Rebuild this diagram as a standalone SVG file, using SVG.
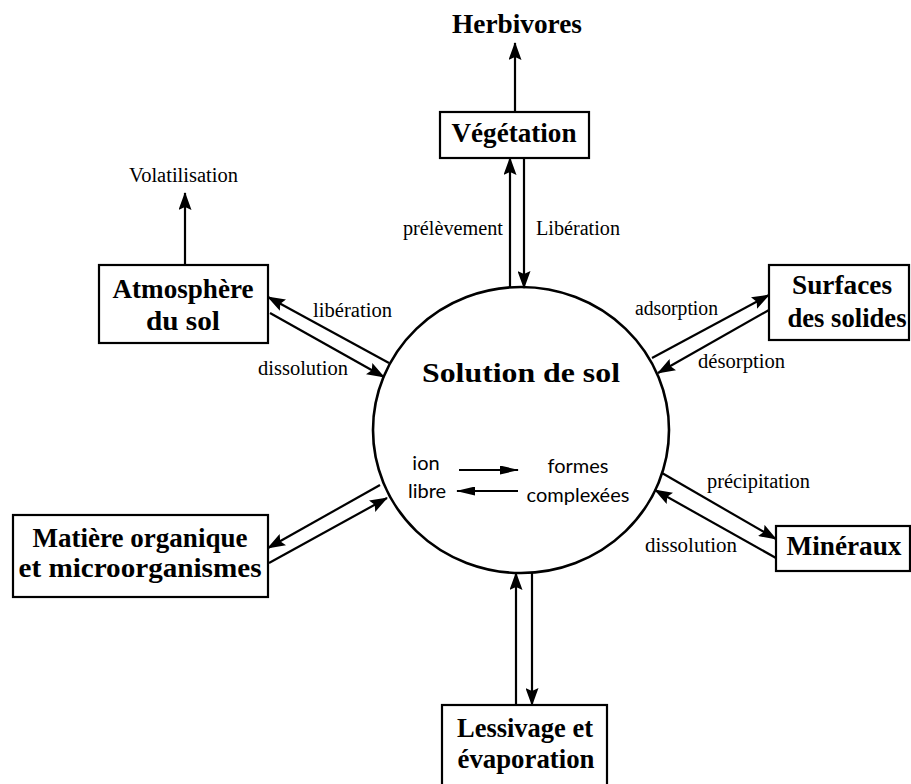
<svg xmlns="http://www.w3.org/2000/svg" width="911" height="784" viewBox="0 0 911 784">
  <style>
    .box { fill: #fff; stroke: #000; stroke-width: 2.2; }
    .node { font-family: "Liberation Serif", "Times New Roman", serif; font-weight: bold; font-size: 28px; fill: #000; text-anchor: middle; }
    .lbl { font-family: "Liberation Serif", "Times New Roman", serif; font-size: 20px; fill: #000; }
    .inner { font-family: Lato, "Open Sans", sans-serif; font-size: 20px; fill: #000; }
    .arr { stroke: #000; stroke-width: 2.2; fill: none; marker-end: url(#head); }
    .arr-s { stroke: #000; stroke-width: 2.2; fill: none; marker-end: url(#head-s); }
  </style>
  <defs>
    <marker id="head" viewBox="0 0 18 13" refX="17" refY="6.5" markerWidth="18" markerHeight="13" markerUnits="userSpaceOnUse" orient="auto">
      <path d="M0,0 L18,6.5 L0,13 L3,6.5 z" fill="#000"/>
    </marker>
    <marker id="head-s" viewBox="0 0 19 9" refX="18" refY="4.5" markerWidth="19" markerHeight="9" markerUnits="userSpaceOnUse" orient="auto">
      <path d="M0,0 L19,4.5 L0,9 z" fill="#000"/>
    </marker>
  </defs>

  <rect width="911" height="784" fill="#fff"/>

  <!-- connectors -->
  <g id="connectors">
    <!-- Végétation -> Herbivores -->
    <line class="arr" x1="515" y1="112" x2="515" y2="43"/>
    <!-- Atmosphère -> Volatilisation -->
    <line class="arr" x1="185" y1="265" x2="185" y2="193"/>
    <!-- solution <-> végétation -->
    <line class="arr" x1="510" y1="287" x2="510" y2="158"/>
    <line class="arr" x1="524" y1="158" x2="524" y2="288"/>
    <!-- solution <-> atmosphère -->
    <line class="arr" x1="389" y1="363" x2="268" y2="297"/>
    <line class="arr" x1="270" y1="313" x2="384" y2="377"/>
    <!-- solution <-> surfaces -->
    <line class="arr" x1="652" y1="358" x2="769" y2="295"/>
    <line class="arr" x1="769" y1="310" x2="658" y2="373"/>
    <!-- solution <-> matière organique -->
    <line class="arr" x1="380" y1="485" x2="268" y2="548"/>
    <line class="arr" x1="269" y1="563" x2="387" y2="498"/>
    <!-- solution <-> minéraux -->
    <line class="arr" x1="662" y1="473" x2="776" y2="539"/>
    <line class="arr" x1="776" y1="558" x2="655" y2="490"/>
    <!-- solution <-> lessivage -->
    <line class="arr" x1="516" y1="705" x2="516" y2="573"/>
    <line class="arr" x1="532" y1="572" x2="532" y2="705"/>
    <!-- ion libre <-> formes complexées -->
    <line class="arr-s" x1="459" y1="470" x2="518" y2="470"/>
    <line class="arr-s" x1="518" y1="491" x2="457" y2="491"/>
  </g>

  <!-- flow labels -->
  <g id="labels">
    <text class="lbl" x="238" y="182" text-anchor="end" textLength="109" lengthAdjust="spacingAndGlyphs">Volatilisation</text>
    <text class="lbl" x="503" y="235" text-anchor="end" textLength="100" lengthAdjust="spacingAndGlyphs">prélèvement</text>
    <text class="lbl" x="536" y="235" textLength="84" lengthAdjust="spacingAndGlyphs">Libération</text>
    <text class="lbl" x="313" y="317" textLength="79" lengthAdjust="spacingAndGlyphs">libération</text>
    <text class="lbl" x="258" y="375" textLength="90" lengthAdjust="spacingAndGlyphs">dissolution</text>
    <text class="lbl" x="635" y="315" textLength="83" lengthAdjust="spacingAndGlyphs">adsorption</text>
    <text class="lbl" x="698" y="368" textLength="87" lengthAdjust="spacingAndGlyphs">désorption</text>
    <text class="lbl" x="707" y="488" textLength="103" lengthAdjust="spacingAndGlyphs">précipitation</text>
    <text class="lbl" x="645" y="552" textLength="92" lengthAdjust="spacingAndGlyphs">dissolution</text>
  </g>

  <!-- nodes -->
  <g id="solution">
    <ellipse cx="521" cy="430" rx="148" ry="143" fill="none" stroke="#000" stroke-width="2.6"/>
    <text class="node" x="521" y="382" font-size="36" textLength="198" lengthAdjust="spacingAndGlyphs">Solution de sol</text>
    <text class="inner" x="426" y="470" text-anchor="middle">ion</text>
    <text class="inner" x="427" y="498" text-anchor="middle">libre</text>
    <text class="inner" x="578" y="473" text-anchor="middle">formes</text>
    <text class="inner" x="578" y="502" text-anchor="middle">complexées</text>
  </g>

  <g id="herbivores">
    <text class="node" x="517" y="33" textLength="130" lengthAdjust="spacingAndGlyphs">Herbivores</text>
  </g>

  <g id="vegetation">
    <rect class="box" x="440" y="112" width="149" height="46"/>
    <text class="node" x="514" y="142" textLength="125" lengthAdjust="spacingAndGlyphs">Végétation</text>
  </g>

  <g id="atmosphere">
    <rect class="box" x="99" y="265" width="169" height="78"/>
    <text class="node" x="183" y="298" textLength="141" lengthAdjust="spacingAndGlyphs">Atmosphère</text>
    <text class="node" x="183" y="330" textLength="74" lengthAdjust="spacingAndGlyphs">du sol</text>
  </g>

  <g id="surfaces">
    <rect class="box" x="769" y="265" width="140" height="75"/>
    <text class="node" x="842" y="294" textLength="100" lengthAdjust="spacingAndGlyphs">Surfaces</text>
    <text class="node" x="847" y="327" textLength="119" lengthAdjust="spacingAndGlyphs">des solides</text>
  </g>

  <g id="matiere">
    <rect class="box" x="13" y="515" width="255" height="82"/>
    <text class="node" x="140" y="547" textLength="215" lengthAdjust="spacingAndGlyphs">Matière organique</text>
    <text class="node" x="140" y="577" textLength="243" lengthAdjust="spacingAndGlyphs">et microorganismes</text>
  </g>

  <g id="mineraux">
    <rect class="box" x="776" y="526" width="134" height="45"/>
    <text class="node" x="844" y="555" textLength="115" lengthAdjust="spacingAndGlyphs">Minéraux</text>
  </g>

  <g id="lessivage">
    <rect class="box" x="442" y="705" width="165" height="90"/>
    <text class="node" x="525" y="737" textLength="136" lengthAdjust="spacingAndGlyphs">Lessivage et</text>
    <text class="node" x="526" y="768" textLength="137" lengthAdjust="spacingAndGlyphs">évaporation</text>
  </g>
</svg>
